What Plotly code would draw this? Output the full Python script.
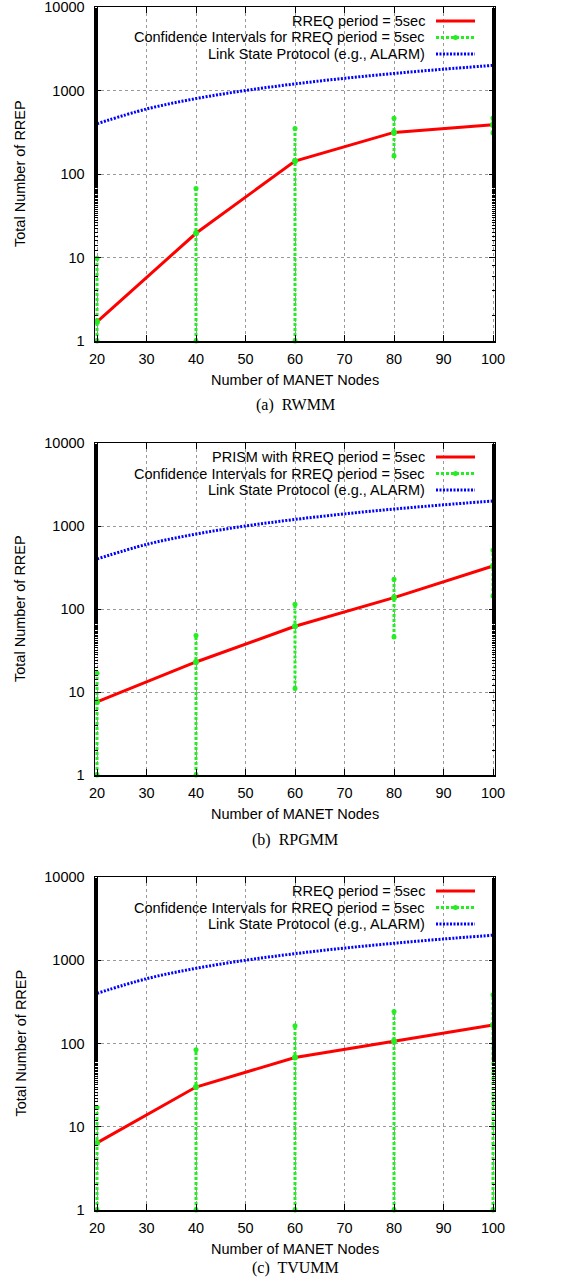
import plotly.graph_objects as go

# ---------------- data ----------------
nodes = [20, 40, 60, 80, 100]
link_x = [20, 30, 40, 50, 60, 70, 80, 90, 100]
link_state = [400, 600, 800, 1000, 1200, 1400, 1600, 1800, 2000]

rwmm_mean = [1.7, 19.5, 143, 315, 390]
rwmm_lo = [1, 1, 1, 164, 310]
rwmm_hi = [9.8, 67, 350, 465, 470]

rpgmm_mean = [7.6, 23, 62, 137, 330]
rpgmm_lo = [1, 1, 11, 46, 143]
rpgmm_hi = [16.8, 48, 114, 228, 510]

tvumm_mean = [6.4, 30, 68, 107, 167]
tvumm_lo = [1, 1, 1, 1, 1]
tvumm_hi = [17, 84, 163, 242, 384]

panels = [
    ("(a)  RWMM", "RREQ period = 5sec", rwmm_mean, rwmm_lo, rwmm_hi),
    ("(b)  RPGMM", "PRISM with RREQ period = 5sec", rpgmm_mean, rpgmm_lo, rpgmm_hi),
    ("(c)  TVUMM", "RREQ period = 5sec", tvumm_mean, tvumm_lo, tvumm_hi),
]
ci_label = "Confidence Intervals for RREQ period = 5sec"
ls_label = "Link State Protocol (e.g., ALARM)"
x_title = "Number of MANET Nodes"
y_title = "Total Number of RREP"

x_ticks = [20, 30, 40, 50, 60, 70, 80, 90, 100]
y_ticks = [1, 10, 100, 1000, 10000]
y_ticktext = ["1", "10", "100", "1000", "10000"]

# ---------------- layout geometry ----------------
W, H = 574, 1284
x0, x1 = 97, 493          # pixel positions of x=20 and x=100
pad = 0.4                 # small x padding so edge bars are not clipped
xscale = (x1 - x0) / 80.0
panel_px = [(7, 341), (443, 775), (877, 1210)]
caption_px = [405, 840, 1268]

RED = "#ff0000"
GREEN = "#22ee22"
BLUE = "#0000ff"
FONT = "Liberation Sans, Arial, sans-serif"
FS = 14.5

fig = go.Figure()
layout = dict(
    width=W, height=H,
    margin=dict(l=0, r=0, t=0, b=0),
    paper_bgcolor="white", plot_bgcolor="white",
    showlegend=False,
    font=dict(family=FONT, size=FS, color="black"),
)
annotations = []
shapes = []

for i, (cap, red_label, mean, lo, hi) in enumerate(panels):
    top, bot = panel_px[i]
    xa = "x" if i == 0 else f"x{i+1}"
    ya = "y" if i == 0 else f"y{i+1}"
    xkey = "xaxis" if i == 0 else f"xaxis{i+1}"
    ykey = "yaxis" if i == 0 else f"yaxis{i+1}"
    dom_y = [1 - bot / H, 1 - top / H]
    dom_x = [(x0 - pad * xscale) / W, (x1 + pad * xscale) / W]

    # link state (blue dotted)
    fig.add_trace(go.Scatter(x=link_x, y=link_state, mode="lines", xaxis=xa, yaxis=ya,
                             line=dict(color=BLUE, width=3, dash="2px,1.5px"),
                             line_shape="spline", name=ls_label))
    # confidence intervals (green dotted vertical bars)
    for xv, l, h in zip(nodes, lo, hi):
        fig.add_trace(go.Scatter(x=[xv, xv], y=[l, h], mode="lines+markers", xaxis=xa, yaxis=ya,
                                 line=dict(color=GREEN, width=3, dash="3px,2px"),
                                 marker=dict(color=GREEN, size=5),
                                 cliponaxis=False, name=ci_label))
    # red mean line
    fig.add_trace(go.Scatter(x=nodes, y=mean, mode="lines", xaxis=xa, yaxis=ya,
                             line=dict(color=RED, width=3), name=red_label))
    # green mean markers on top
    fig.add_trace(go.Scatter(x=nodes, y=mean, mode="markers", xaxis=xa, yaxis=ya,
                             marker=dict(color=GREEN, size=6), cliponaxis=False, name=ci_label))

    layout[xkey] = dict(
        domain=dom_x, anchor=ya, range=[20 - pad, 100 + pad], automargin=False,
        tickvals=x_ticks, ticks="inside", ticklen=6, tickcolor="black",
        showline=True, linecolor="black", linewidth=1.5, mirror="allticks",
        showgrid=True, gridcolor="#999999", griddash="dot", gridwidth=1,
        zeroline=False, tickfont=dict(size=FS, family=FONT), ticklabelstandoff=4,
        ticklabeloverflow="allow",
    )
    layout[ykey] = dict(
        domain=dom_y, anchor=xa, type="log", range=[0, 4], automargin=False,
        tickvals=y_ticks, ticktext=y_ticktext, ticks="inside", ticklen=6, tickcolor="black",
        minor=dict(ticks="inside", ticklen=3, tickcolor="black", showgrid=False),
        showline=True, linecolor="black", linewidth=1.5, mirror="allticks",
        showgrid=True, gridcolor="#999999", griddash="dot", gridwidth=1,
        zeroline=False, tickfont=dict(size=FS, family=FONT), ticklabelstandoff=6,
        ticklabeloverflow="allow",
    )

    # axis titles
    annotations.append(dict(text=x_title, xref="paper", yref="paper", x=(x0 + x1) / 2 / W,
                            y=1 - (bot + 39) / H, xanchor="center", yanchor="middle",
                            showarrow=False, font=dict(size=FS, family=FONT)))
    annotations.append(dict(text=y_title, xref="paper", yref="paper", x=20 / W,
                            y=1 - (top + bot) / 2 / H, xanchor="center", yanchor="middle",
                            textangle=-90, showarrow=False, font=dict(size=FS, family=FONT)))

    # opaque key box covering gridlines
    key_top = top + 1
    key_bot = top + 54
    shapes.append(dict(type="rect", xref="paper", yref="paper",
                       x0=(x0 + 1) / W, x1=(x1 - 1) / W,
                       y0=1 - key_bot / H, y1=1 - key_top / H,
                       fillcolor="white", line=dict(width=0), layer="between"))
    labels = [red_label, ci_label, ls_label]
    styles = [dict(color=RED, width=3), dict(color=GREEN, width=3, dash="3px,2px"),
              dict(color=BLUE, width=3, dash="2px,1.5px")]
    for k, (lab, st) in enumerate(zip(labels, styles)):
        yc = top + 14 + k * 16.5
        annotations.append(dict(text=lab, xref="paper", yref="paper", x=427 / W, y=1 - yc / H,
                                xanchor="right", yanchor="middle", showarrow=False,
                                font=dict(size=FS, family=FONT)))
        shapes.append(dict(type="line", xref="paper", yref="paper",
                           x0=436 / W, x1=475 / W, y0=1 - yc / H, y1=1 - yc / H,
                           line=st, layer="above"))
        if k == 1:
            shapes.append(dict(type="circle", xref="paper", yref="paper",
                               x0=(455.5 - 2.5) / W, x1=(455.5 + 2.5) / W,
                               y0=1 - (yc + 2.5) / H, y1=1 - (yc - 2.5) / H,
                               fillcolor=GREEN, line=dict(width=0), layer="above"))

    # caption
    annotations.append(dict(text=cap, xref="paper", yref="paper", x=(x0 + x1) / 2 / W,
                            y=1 - caption_px[i] / H, xanchor="center", yanchor="middle",
                            showarrow=False,
                            font=dict(size=16, family="Liberation Serif, Times New Roman, serif")))

layout["annotations"] = annotations
layout["shapes"] = shapes
fig.update_layout(**layout)
fig.write_html(
    "out.html",
    config={"displayModeBar": False, "staticPlot": True},
    post_script="document.body.style.margin='0';document.body.style.overflow='hidden';",
)
